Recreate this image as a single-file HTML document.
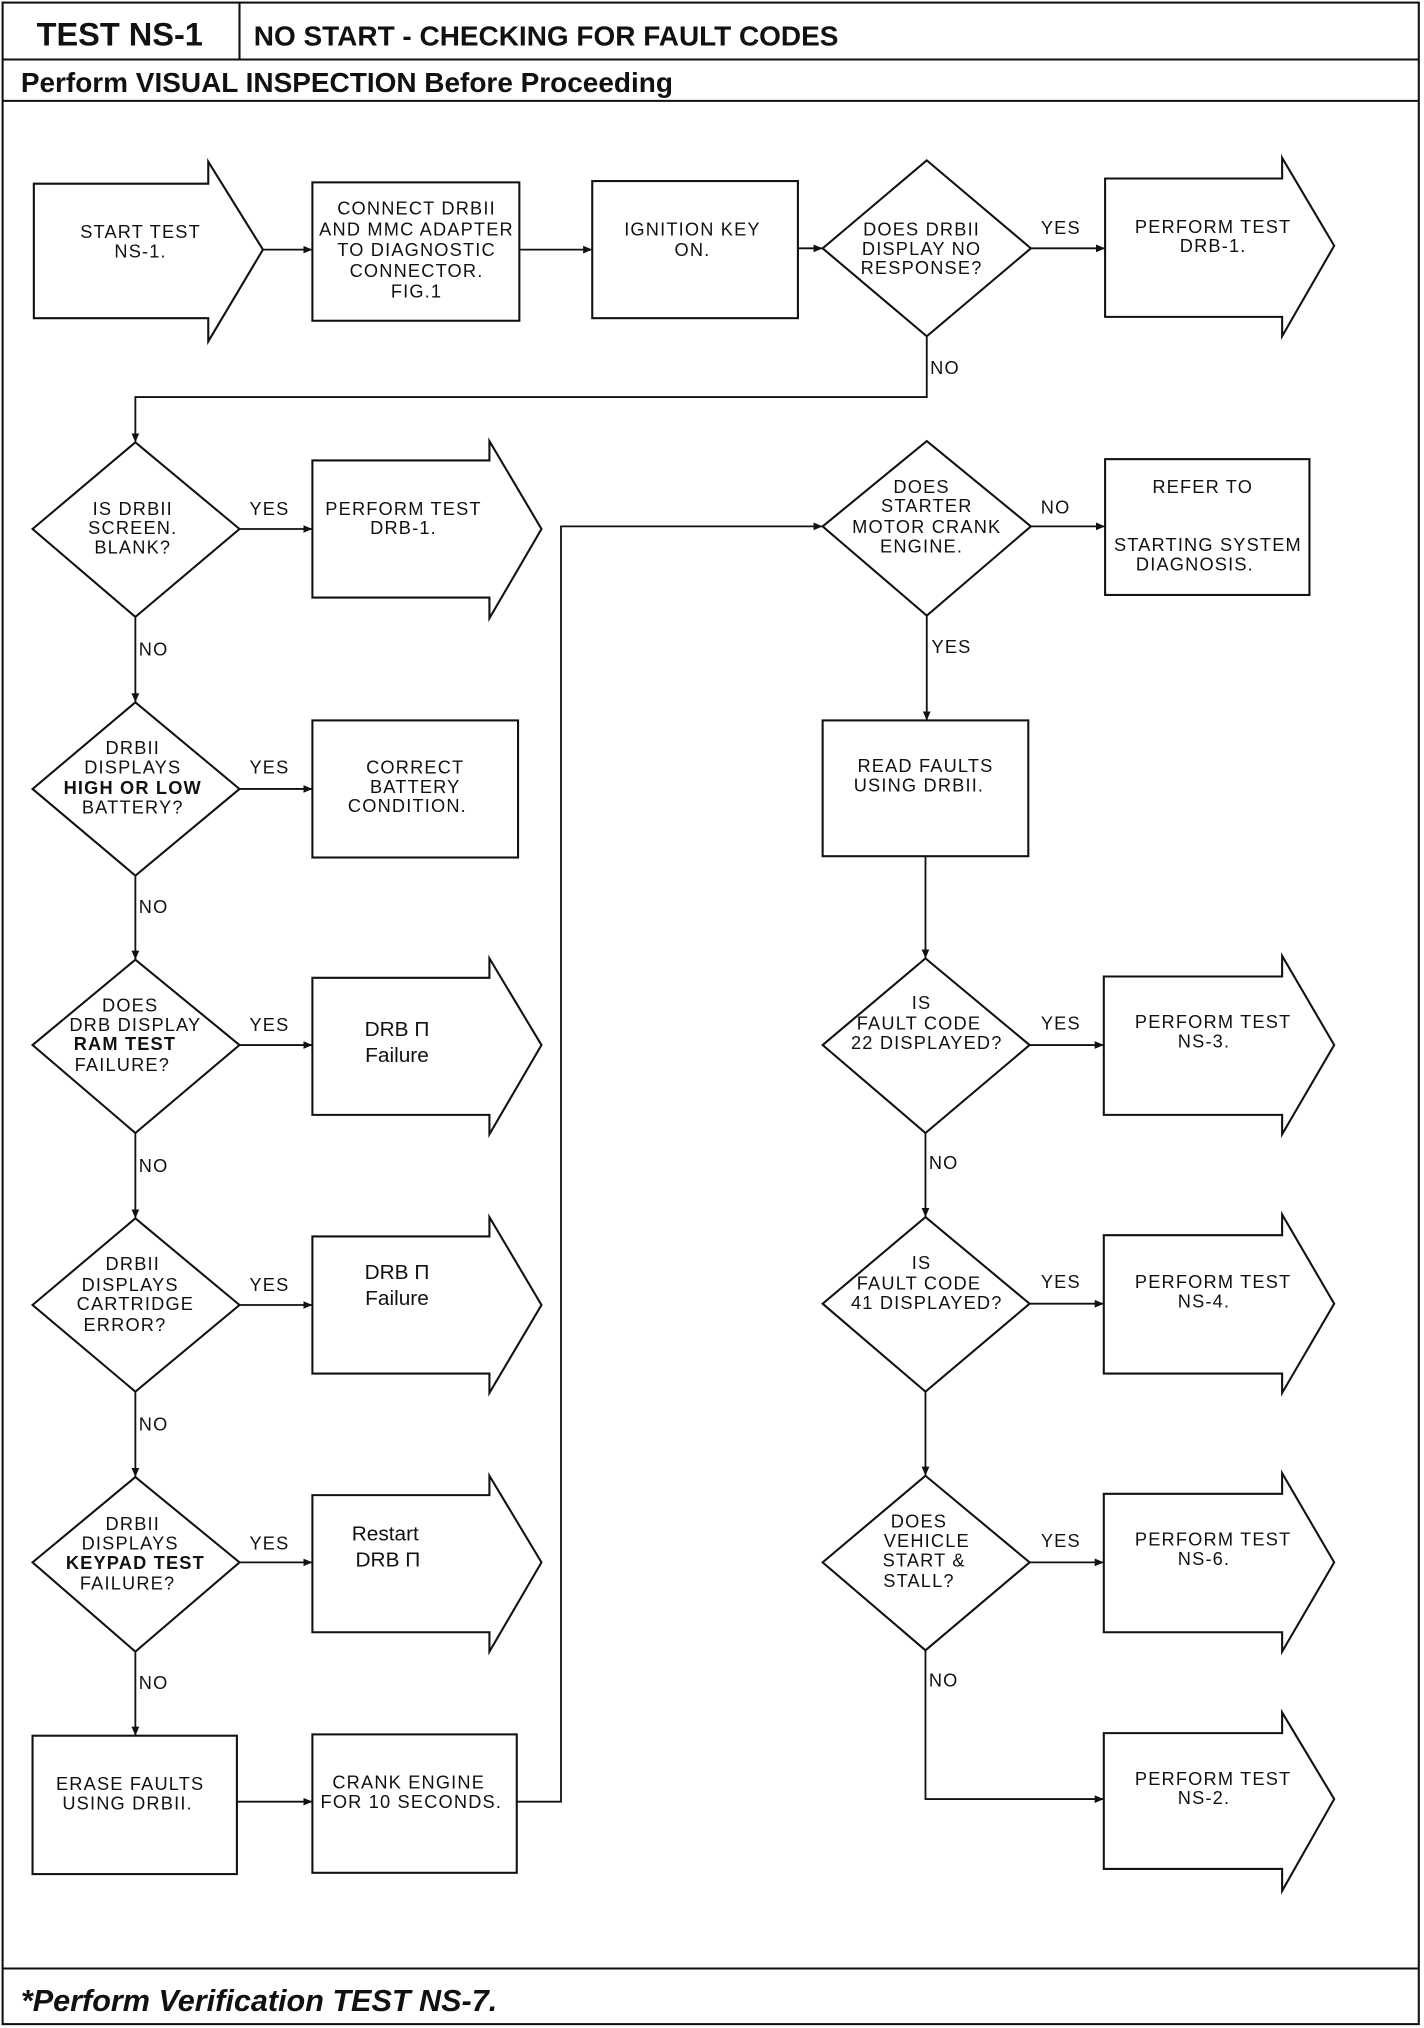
<!DOCTYPE html>
<html><head><meta charset="utf-8"><style>
html,body{margin:0;padding:0;background:#fff}
svg{display:block}
text{font-family:"Liberation Sans",sans-serif;font-size:14px;fill:#111;text-anchor:middle;letter-spacing:0.9px}
.h{font-weight:bold;text-anchor:start;letter-spacing:0}
.s{fill:none;stroke:#111;stroke-width:1.6}
.l{fill:none;stroke:#111;stroke-width:1.4}
</style></head><body>
<svg width="1424" height="2028" viewBox="0 0 1094 1568" preserveAspectRatio="none" xmlns="http://www.w3.org/2000/svg">
<defs><marker id="a" markerWidth="8" markerHeight="8" refX="7" refY="4" orient="auto" markerUnits="userSpaceOnUse"><path d="M0,1 L7,4 L0,7 z" fill="#111"/></marker></defs>
<rect x="2" y="2" width="1088" height="1563" class="s" stroke-width="2"/>
<line x1="2" y1="46" x2="1090" y2="46" class="s"/>
<line x1="184" y1="2" x2="184" y2="46" class="s"/>
<line x1="2" y1="78" x2="1090" y2="78" class="s"/>
<line x1="2" y1="1522" x2="1090" y2="1522" class="s"/>
<text x="92" y="35" style="font-size:25px;font-weight:bold;letter-spacing:0">TEST NS-1</text>
<text class="h" x="195" y="35" style="font-size:21.5px">NO START - CHECKING FOR FAULT CODES</text>
<text class="h" x="16" y="71" style="font-size:21.5px">Perform VISUAL INSPECTION Before Proceeding</text>
<text class="h" x="16" y="1555" style="font-size:23.5px;font-style:italic">*Perform Verification TEST NS-7.</text>

<path class="s" d="M26,142 H160 V125 L202,193 L160,264 V246 H26 Z"/>
<text x="108" y="184">START TEST</text><text x="108" y="199">NS-1.</text>
<rect class="s" x="240" y="141" width="159" height="107"/>
<text x="320" y="166">CONNECT DRBII</text><text x="320" y="182">AND MMC ADAPTER</text><text x="320" y="198">TO DIAGNOSTIC</text><text x="320" y="214">CONNECTOR.</text><text x="320" y="230">FIG.1</text>
<rect class="s" x="455" y="140" width="158" height="106"/>
<text x="532" y="182">IGNITION KEY</text><text x="532" y="198">ON.</text>
<path class="s" d="M712,124 L792,192 L712,260 L632,192 Z"/>
<text x="708" y="182">DOES DRBII</text><text x="708" y="197">DISPLAY NO</text><text x="708" y="212">RESPONSE?</text>
<path class="s" d="M849,138 H985 V122 L1025,190 L985,260 V245 H849 Z"/>
<text x="932" y="180">PERFORM TEST</text><text x="932" y="195">DRB-1.</text>

<line class="l" x1="202" y1="193" x2="240" y2="193" marker-end="url(#a)"/>
<line class="l" x1="399" y1="193" x2="455" y2="193" marker-end="url(#a)"/>
<line class="l" x1="613" y1="192" x2="632" y2="192" marker-end="url(#a)"/>
<line class="l" x1="792" y1="192" x2="849" y2="192" marker-end="url(#a)"/>
<text x="815" y="181">YES</text>
<path class="l" d="M712,260 V307 H104 V342" marker-end="url(#a)"/>
<text x="726" y="289">NO</text>

<path class="s" d="M104,342 L184,409 L104,477 L25,409 Z"/>
<text x="102" y="398">IS DRBII</text><text x="102" y="413">SCREEN.</text><text x="102" y="428">BLANK?</text>
<line class="l" x1="184" y1="409" x2="240" y2="409" marker-end="url(#a)"/><text x="207" y="398">YES</text>
<path class="s" d="M240,356 H376 V341 L416,409 L376,478 V462 H240 Z"/>
<text x="310" y="398">PERFORM TEST</text><text x="310" y="413">DRB-1.</text>
<line class="l" x1="104" y1="477" x2="104" y2="543" marker-end="url(#a)"/><text x="118" y="507">NO</text>

<path class="s" d="M104,543 L184,610 L104,677 L25,610 Z"/>
<text x="102" y="583">DRBII</text><text x="102" y="598">DISPLAYS</text><text x="102" y="614" style="font-weight:bold">HIGH OR LOW</text><text x="102" y="629">BATTERY?</text>
<line class="l" x1="184" y1="610" x2="240" y2="610" marker-end="url(#a)"/><text x="207" y="598">YES</text>
<rect class="s" x="240" y="557" width="158" height="106"/>
<text x="319" y="598">CORRECT</text><text x="319" y="613">BATTERY</text><text x="313" y="628">CONDITION.</text>
<line class="l" x1="104" y1="677" x2="104" y2="742" marker-end="url(#a)"/><text x="118" y="706">NO</text>

<path class="s" d="M104,742 L184,808 L104,876 L25,808 Z"/>
<text x="100" y="782">DOES</text><text x="104" y="797">DRB DISPLAY</text><text x="96" y="812" style="font-weight:bold">RAM TEST</text><text x="94" y="828">FAILURE?</text>
<line class="l" x1="184" y1="808" x2="240" y2="808" marker-end="url(#a)"/><text x="207" y="797">YES</text>
<path class="s" d="M240,756 H376 V741 L416,808 L376,877 V862 H240 Z"/>
<text x="305" y="801" style="font-size:16px;letter-spacing:0">DRB Π</text><text x="305" y="821" style="font-size:16px;letter-spacing:0">Failure</text>
<line class="l" x1="104" y1="876" x2="104" y2="942" marker-end="url(#a)"/><text x="118" y="906">NO</text>

<path class="s" d="M104,942 L184,1009 L104,1076 L25,1009 Z"/>
<text x="102" y="982">DRBII</text><text x="100" y="998">DISPLAYS</text><text x="104" y="1013">CARTRIDGE</text><text x="96" y="1029">ERROR?</text>
<line class="l" x1="184" y1="1009" x2="240" y2="1009" marker-end="url(#a)"/><text x="207" y="998">YES</text>
<path class="s" d="M240,956 H376 V941 L416,1009 L376,1077 V1062 H240 Z"/>
<text x="305" y="989" style="font-size:16px;letter-spacing:0">DRB Π</text><text x="305" y="1009" style="font-size:16px;letter-spacing:0">Failure</text>
<line class="l" x1="104" y1="1076" x2="104" y2="1142" marker-end="url(#a)"/><text x="118" y="1106">NO</text>

<path class="s" d="M104,1142 L184,1208 L104,1277 L25,1208 Z"/>
<text x="102" y="1183">DRBII</text><text x="100" y="1198">DISPLAYS</text><text x="104" y="1213" style="font-weight:bold">KEYPAD TEST</text><text x="98" y="1229">FAILURE?</text>
<line class="l" x1="184" y1="1208" x2="240" y2="1208" marker-end="url(#a)"/><text x="207" y="1198">YES</text>
<path class="s" d="M240,1156 H376 V1141 L416,1208 L376,1277 V1262 H240 Z"/>
<text x="296" y="1191" style="font-size:16px;letter-spacing:0">Restart</text><text x="298" y="1211" style="font-size:16px;letter-spacing:0">DRB Π</text>
<line class="l" x1="104" y1="1277" x2="104" y2="1342" marker-end="url(#a)"/><text x="118" y="1306">NO</text>

<rect class="s" x="25" y="1342" width="157" height="107"/>
<text x="100" y="1384">ERASE FAULTS</text><text x="98" y="1399">USING DRBII.</text>
<line class="l" x1="182" y1="1393" x2="240" y2="1393" marker-end="url(#a)"/>
<rect class="s" x="240" y="1341" width="157" height="107"/>
<text x="314" y="1383">CRANK ENGINE</text><text x="316" y="1398">FOR 10 SECONDS.</text>
<path class="l" d="M397,1393 H431 V407 H632" marker-end="url(#a)"/>

<path class="s" d="M712,341 L792,407 L712,476 L632,407 Z"/>
<text x="708" y="381">DOES</text><text x="712" y="396">STARTER</text><text x="712" y="412">MOTOR CRANK</text><text x="708" y="427">ENGINE.</text>
<line class="l" x1="792" y1="407" x2="849" y2="407" marker-end="url(#a)"/><text x="811" y="397">NO</text>
<rect class="s" x="849" y="355" width="157" height="105"/>
<text x="924" y="381">REFER TO</text><text x="928" y="426">STARTING SYSTEM</text><text x="918" y="441">DIAGNOSIS.</text>
<line class="l" x1="712" y1="476" x2="712" y2="557" marker-end="url(#a)"/><text x="731" y="505">YES</text>
<rect class="s" x="632" y="557" width="158" height="105"/>
<text x="711" y="597">READ FAULTS</text><text x="706" y="612">USING DRBII.</text>
<line class="l" x1="711" y1="662" x2="711" y2="741" marker-end="url(#a)"/>

<path class="s" d="M711,741 L791,808 L711,876 L632,808 Z"/>
<text x="708" y="780">IS</text><text x="706" y="796">FAULT CODE</text><text x="712" y="811">22 DISPLAYED?</text>
<line class="l" x1="791" y1="808" x2="848" y2="808" marker-end="url(#a)"/><text x="815" y="796">YES</text>
<path class="s" d="M848,755 H985 V739 L1025,808 L985,877 V862 H848 Z"/>
<text x="932" y="795">PERFORM TEST</text><text x="925" y="810">NS-3.</text>
<line class="l" x1="711" y1="876" x2="711" y2="941" marker-end="url(#a)"/><text x="725" y="904">NO</text>

<path class="s" d="M711,941 L791,1008 L711,1076 L632,1008 Z"/>
<text x="708" y="981">IS</text><text x="706" y="997">FAULT CODE</text><text x="712" y="1012">41 DISPLAYED?</text>
<line class="l" x1="791" y1="1008" x2="848" y2="1008" marker-end="url(#a)"/><text x="815" y="996">YES</text>
<path class="s" d="M848,955 H985 V939 L1025,1008 L985,1077 V1062 H848 Z"/>
<text x="932" y="996">PERFORM TEST</text><text x="925" y="1011">NS-4.</text>
<line class="l" x1="711" y1="1076" x2="711" y2="1141" marker-end="url(#a)"/>

<path class="s" d="M711,1141 L791,1208 L711,1276 L632,1208 Z"/>
<text x="706" y="1181">DOES</text><text x="712" y="1196">VEHICLE</text><text x="710" y="1211">START &amp;</text><text x="706" y="1227">STALL?</text>
<line class="l" x1="791" y1="1208" x2="848" y2="1208" marker-end="url(#a)"/><text x="815" y="1196">YES</text>
<path class="s" d="M848,1155 H985 V1139 L1025,1208 L985,1277 V1262 H848 Z"/>
<text x="932" y="1195">PERFORM TEST</text><text x="925" y="1210">NS-6.</text>
<path class="l" d="M711,1276 V1391 H848" marker-end="url(#a)"/><text x="725" y="1304">NO</text>
<path class="s" d="M848,1340 H985 V1324 L1025,1391 L985,1462 V1445 H848 Z"/>
<text x="932" y="1380">PERFORM TEST</text><text x="925" y="1395">NS-2.</text>
</svg>
</body></html>
